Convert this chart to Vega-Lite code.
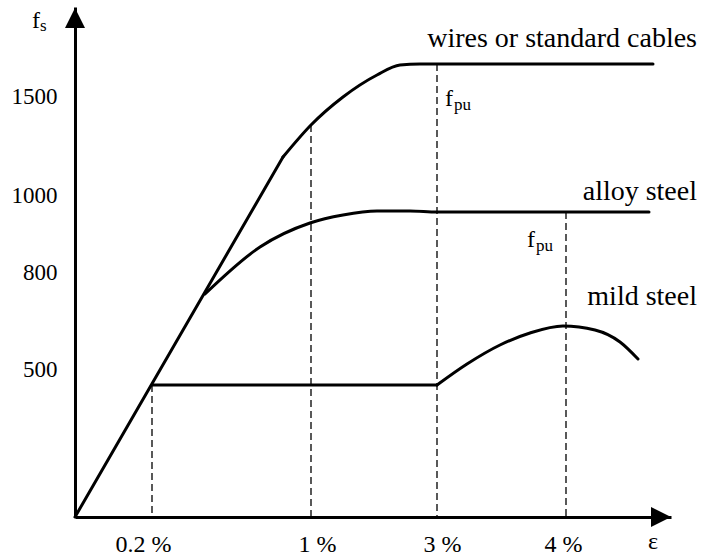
{
  "$schema": "https://vega.github.io/schema/vega-lite/v6.json",
  "autosize": {"type": "none"},
  "width": 596,
  "height": 510,
  "padding": {"left": 75, "top": 7, "right": 32, "bottom": 39},
  "background": "white",
  "config": {"view": {"stroke": null}, "font": "Liberation Serif, serif"},
  "datasets": {
    "curves": [
      {"series": "elastic", "eps": 0, "fs": 0},
      {"series": "elastic", "eps": 208, "fs": 360},
      {"series": "wires", "eps": 208, "fs": 360},
      {"series": "wires", "eps": 236, "fs": 392},
      {"series": "wires", "eps": 268, "fs": 420},
      {"series": "wires", "eps": 302, "fs": 442},
      {"series": "wires", "eps": 325, "fs": 452},
      {"series": "wires", "eps": 345, "fs": 453},
      {"series": "wires", "eps": 362, "fs": 453},
      {"series": "wires", "eps": 578, "fs": 453},
      {"series": "alloy", "eps": 130, "fs": 223},
      {"series": "alloy", "eps": 185, "fs": 270},
      {"series": "alloy", "eps": 235, "fs": 294},
      {"series": "alloy", "eps": 268, "fs": 302},
      {"series": "alloy", "eps": 302, "fs": 306},
      {"series": "alloy", "eps": 335, "fs": 306},
      {"series": "alloy", "eps": 362, "fs": 305},
      {"series": "alloy", "eps": 574, "fs": 305},
      {"series": "mild yield", "eps": 77, "fs": 132},
      {"series": "mild yield", "eps": 362, "fs": 132},
      {"series": "mild hardening", "eps": 362, "fs": 132},
      {"series": "mild hardening", "eps": 392, "fs": 153},
      {"series": "mild hardening", "eps": 425, "fs": 172},
      {"series": "mild hardening", "eps": 455, "fs": 184},
      {"series": "mild hardening", "eps": 488, "fs": 191},
      {"series": "mild hardening", "eps": 520, "fs": 187},
      {"series": "mild hardening", "eps": 545, "fs": 175},
      {"series": "mild hardening", "eps": 563, "fs": 158}
    ],
    "guides": [
      {"mark": "0.2 %", "eps": 77, "fs": 132},
      {"mark": "1 %", "eps": 236, "fs": 392},
      {"mark": "3 %", "eps": 362, "fs": 453},
      {"mark": "4 %", "eps": 491, "fs": 305}
    ],
    "labels": [
      {"text": "wires or standard cables", "eps": 622, "fs": 470},
      {"text": "alloy steel", "eps": 622, "fs": 317},
      {"text": "mild steel", "eps": 622, "fs": 212}
    ],
    "symbols": [
      {"text": "f", "eps": 370, "fs": 411},
      {"text": "f", "eps": 452, "fs": 270},
      {"text": "f", "eps": -43, "fs": 489}
    ],
    "subscripts": [
      {"text": "pu", "eps": 379, "fs": 407},
      {"text": "pu", "eps": 461, "fs": 266},
      {"text": "s", "eps": -35, "fs": 486}
    ],
    "epsilon": [
      {"text": "ε", "eps": 578, "fs": -32}
    ],
    "yArrow": [{"eps": 0, "fs": 499}],
    "xArrow": [{"eps": 586, "fs": 0}]
  },
  "layer": [
    {
      "data": {"name": "guides"},
      "mark": {"type": "rule", "color": "black", "strokeWidth": 1.3, "strokeDash": [7, 4]},
      "encoding": {
        "x": {"field": "eps", "type": "quantitative", "title": null,
              "scale": {"domain": [0, 596], "nice": false, "zero": false},
              "axis": {"values": [68, 242, 367, 488], "labelExpr": "datum.value == 68 ? '0.2 %' : datum.value == 242 ? '1 %' : datum.value == 367 ? '3 %' : '4 %'",
                       "domainColor": "black", "domainWidth": 3, "ticks": false, "grid": false,
                       "labelFont": "Liberation Serif, serif", "labelFontSize": 24, "labelColor": "black",
                       "labelBaseline": "alphabetic", "labelPadding": 34, "labelFlush": false, "labelOverlap": false}},
        "y": {"field": "fs", "type": "quantitative", "title": null,
              "scale": {"domain": [0, 510], "nice": false, "zero": false},
              "axis": {"values": [148, 245, 322, 421], "labelExpr": "datum.value == 148 ? '500' : datum.value == 245 ? '800' : datum.value == 322 ? '1000' : '1500'",
                       "domainColor": "black", "domainWidth": 3, "ticks": false, "grid": false,
                       "labelFont": "Liberation Serif, serif", "labelFontSize": 23, "labelColor": "black",
                       "labelBaseline": "middle", "labelPadding": 18, "labelFlush": false, "labelOverlap": false}},
        "y2": {"datum": 0}
      }
    },
    {
      "data": {"name": "curves"},
      "mark": {"type": "line", "color": "black", "strokeWidth": 3, "interpolate": "monotone", "strokeCap": "round"},
      "encoding": {
        "x": {"field": "eps", "type": "quantitative", "title": null},
        "y": {"field": "fs", "type": "quantitative", "title": null},
        "detail": {"field": "series"}
      }
    },
    {
      "data": {"name": "yArrow"},
      "mark": {"type": "point", "shape": "M0,-1L1,1L-1,1Z", "size": 400, "filled": true, "color": "black", "opacity": 1},
      "encoding": {
        "x": {"field": "eps", "type": "quantitative", "title": null},
        "y": {"field": "fs", "type": "quantitative", "title": null}
      }
    },
    {
      "data": {"name": "xArrow"},
      "mark": {"type": "point", "shape": "M1,0L-1,-1L-1,1Z", "size": 400, "filled": true, "color": "black", "opacity": 1},
      "encoding": {
        "x": {"field": "eps", "type": "quantitative", "title": null},
        "y": {"field": "fs", "type": "quantitative", "title": null}
      }
    },
    {
      "data": {"name": "labels"},
      "mark": {"type": "text", "align": "right", "baseline": "alphabetic", "font": "Liberation Serif, serif", "fontSize": 28, "color": "black"},
      "encoding": {
        "x": {"field": "eps", "type": "quantitative", "title": null},
        "y": {"field": "fs", "type": "quantitative", "title": null},
        "text": {"field": "text"}
      }
    },
    {
      "data": {"name": "symbols"},
      "mark": {"type": "text", "align": "left", "baseline": "alphabetic", "font": "Liberation Serif, serif", "fontSize": 24, "color": "black"},
      "encoding": {
        "x": {"field": "eps", "type": "quantitative", "title": null},
        "y": {"field": "fs", "type": "quantitative", "title": null},
        "text": {"field": "text"}
      }
    },
    {
      "data": {"name": "subscripts"},
      "mark": {"type": "text", "align": "left", "baseline": "alphabetic", "font": "Liberation Serif, serif", "fontSize": 17, "color": "black"},
      "encoding": {
        "x": {"field": "eps", "type": "quantitative", "title": null},
        "y": {"field": "fs", "type": "quantitative", "title": null},
        "text": {"field": "text"}
      }
    },
    {
      "data": {"name": "epsilon"},
      "mark": {"type": "text", "align": "center", "baseline": "alphabetic", "font": "Liberation Serif, serif", "fontSize": 24, "color": "black"},
      "encoding": {
        "x": {"field": "eps", "type": "quantitative", "title": null},
        "y": {"field": "fs", "type": "quantitative", "title": null},
        "text": {"field": "text"}
      }
    }
  ]
}
